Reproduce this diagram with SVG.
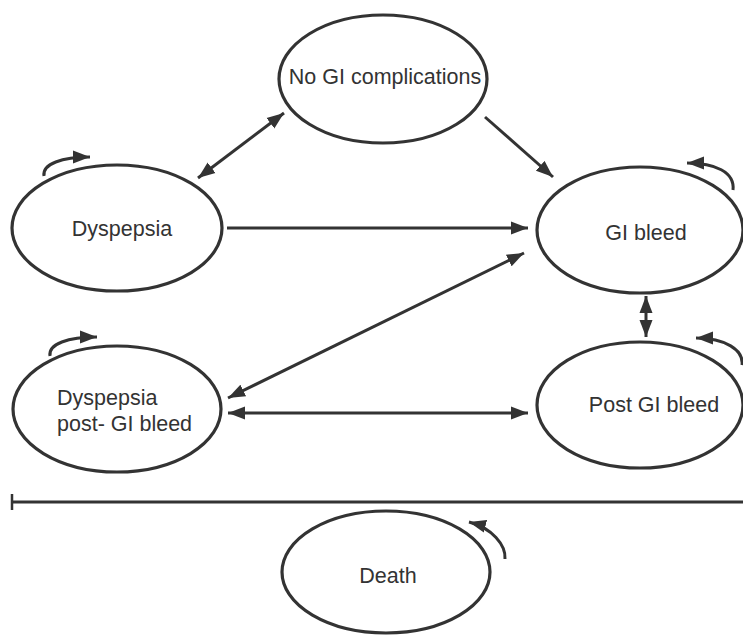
<svg xmlns="http://www.w3.org/2000/svg" width="743" height="635" viewBox="0 0 743 635">
<defs>
<style>
.node ellipse{fill:#fff;stroke:#333;stroke-width:3.2}
.node text{font-family:"Liberation Sans",Arial,sans-serif;font-size:21.5px;fill:#333}
.c{fill:none;stroke:#333;stroke-width:3}
.end{marker-end:url(#ah)}
.both{marker-start:url(#ah);marker-end:url(#ah)}
</style>
<marker id="ah" markerUnits="userSpaceOnUse" markerWidth="18" markerHeight="14" refX="17" refY="7" orient="auto-start-reverse" viewBox="0 0 18 14">
<path d="M0,0.5 L17,7 L0,13.5 z" fill="#333"/>
</marker>
</defs>
<rect width="743" height="635" fill="#fff"/>
<g id="connectors">
<line class="c both" x1="198" y1="178" x2="284" y2="113"/>
<line class="c end" x1="485" y1="117" x2="553" y2="177"/>
<line class="c end" x1="227" y1="228" x2="528" y2="228"/>
<line class="c both" x1="228" y1="398" x2="524" y2="253"/>
<line class="c both" x1="228" y1="413" x2="528" y2="413"/>
<line class="c both" x1="646" y1="296" x2="646" y2="337"/>
<path class="c end" d="M44,176 C42,164 62,157 90,157"/>
<path class="c end" d="M50,356 C48,344 68,337 97,337"/>
<path class="c end" d="M733,190 C735,172 715,163 687,163"/>
<path class="c end" d="M742,365 C744,350 725,338 696,338"/>
<path class="c end" d="M505,559 C506,545 492,528 469,522"/>
<line x1="12" y1="502" x2="743" y2="502" stroke="#333" stroke-width="3"/>
<line x1="12" y1="494" x2="12" y2="510" stroke="#333" stroke-width="2.5"/>
</g>
<g id="no-gi" class="node">
<ellipse cx="383" cy="79" rx="104" ry="64"/>
<text x="385" y="84" text-anchor="middle">No GI complications</text>
</g>
<g id="dyspepsia" class="node">
<ellipse cx="117" cy="228" rx="105" ry="63"/>
<text x="122" y="236" text-anchor="middle">Dyspepsia</text>
</g>
<g id="gi-bleed" class="node">
<ellipse cx="640" cy="230" rx="103" ry="63"/>
<text x="646" y="240" text-anchor="middle">GI bleed</text>
</g>
<g id="dyspepsia-post" class="node">
<ellipse cx="117" cy="409" rx="104" ry="63"/>
<text x="57" y="405">Dyspepsia</text>
<text x="57" y="431">post- GI bleed</text>
</g>
<g id="post-gi-bleed" class="node">
<ellipse cx="640" cy="405" rx="103" ry="63"/>
<text x="654" y="412" text-anchor="middle">Post GI bleed</text>
</g>
<g id="death" class="node">
<ellipse cx="386" cy="572" rx="104" ry="61"/>
<text x="388" y="583" text-anchor="middle">Death</text>
</g>
</svg>
